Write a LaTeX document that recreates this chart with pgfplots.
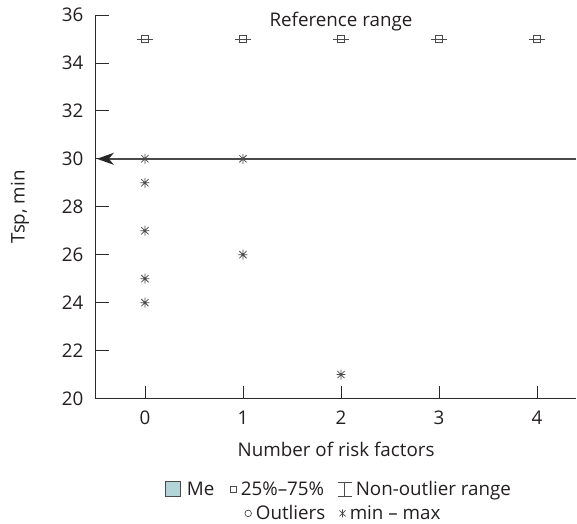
\documentclass[border=0pt]{standalone}
\usepackage{pgfplots}
\pgfplotsset{compat=1.18}
\usepackage{fontspec}
\setmainfont{Open Sans}
\usetikzlibrary{arrows.meta}
\definecolor{lc}{HTML}{4A4A4A}
\definecolor{ax}{HTML}{2A2A2A}
\definecolor{tx}{HTML}{231F20}
\definecolor{mefill}{HTML}{B3D5D9}
\pgfdeclareplotmark{boxbar}{%
  \pgfpathmoveto{\pgfpoint{-8pt}{0pt}}\pgfpathlineto{\pgfpoint{8pt}{0pt}}\pgfusepathqstroke
  \pgfpathrectangle{\pgfpoint{-3.5pt}{-3.3pt}}{\pgfpoint{7pt}{6.6pt}}\pgfusepathqstroke
}
\pgfdeclareplotmark{star8}{%
  \pgfpathmoveto{\pgfpoint{0pt}{-5pt}}\pgfpathlineto{\pgfpoint{0pt}{5pt}}
  \pgfpathmoveto{\pgfpoint{-3.6pt}{-3.6pt}}\pgfpathlineto{\pgfpoint{3.6pt}{3.6pt}}
  \pgfpathmoveto{\pgfpoint{-3.6pt}{3.6pt}}\pgfpathlineto{\pgfpoint{3.6pt}{-3.6pt}}
  \pgfpathmoveto{\pgfpoint{-4.5pt}{0pt}}\pgfpathlineto{\pgfpoint{4.5pt}{0pt}}
  \pgfusepathqstroke
}
\begin{document}
\begin{tikzpicture}[font=\fontsize{18.8}{22}\selectfont, every node/.style={text=tx}]
\begin{axis}[name=ax,
  scale only axis, width=481pt, height=384pt,
  xmin=-0.5, xmax=4.4, ymin=20, ymax=36,
  axis lines*=left, axis line style={ax, line width=0.8pt, -},
  xtick={0,1,2,3,4}, ytick={20,22,...,36},
  tick align=inside, major tick length=13pt,
  tick style={ax, line width=0.8pt},
  /pgf/number format/assume math mode=true,
  yticklabel style={xshift=-9pt},
  xticklabel style={yshift=-9pt},
  xlabel={Number of risk factors}, ylabel={Tsp, min},
  xlabel style={yshift=-10pt}, ylabel style={yshift=26pt},
  clip=false,
]
\addplot[lc, line width=1.4pt, -{Stealth[length=17pt,width=12pt,inset=5pt,color=black!85]}] coordinates {(4.4,30) (-0.49,30)};
\addplot[only marks, mark=boxbar, lc, line width=0.8pt] coordinates {(0,35) (1,35) (2,35) (3,35) (4,35)};
\addplot[only marks, mark=star8, lc, line width=0.75pt] coordinates {
(0,30) (0,29) (0,27) (0,25) (0,24) (1,30) (1,26) (2,21)};
\node[anchor=center] at (axis cs:2,35.73) {Reference range};
\end{axis}
\path[use as bounding box] (-96pt,-125pt) rectangle (481pt,399pt);
% legend
\draw[lc, line width=0.7pt, fill=mefill] (70pt,-98pt) rectangle (85pt,-83pt);
\node[anchor=base west, inner sep=0pt] at (91pt,-97pt) {Me};
\draw[lc, line width=0.7pt] (135pt,-94pt) rectangle (141pt,-88pt);
\node[anchor=base west, inner sep=0pt] at (145pt,-97pt) {25\%–75\%};
\draw[lc, line width=0.7pt] (242pt,-84pt) -- (256pt,-84pt) (249pt,-84pt) -- (249pt,-98pt) (242pt,-98pt) -- (256pt,-98pt);
\node[anchor=base west, inner sep=0pt] at (260pt,-97pt) {Non-outlier range};
\draw[lc, line width=0.7pt] (152.5pt,-115pt) circle (3.3pt);
\node[anchor=base west, inner sep=0pt] at (160pt,-121pt) {Outliers};
\draw[lc, line width=0.7pt] (247pt,-119pt)--(247pt,-111pt) (244pt,-118pt)--(250pt,-112pt) (244pt,-112pt)--(250pt,-118pt);
\node[anchor=base west, inner sep=0pt] at (254pt,-121pt) {min – max};
\end{tikzpicture}
\end{document}
